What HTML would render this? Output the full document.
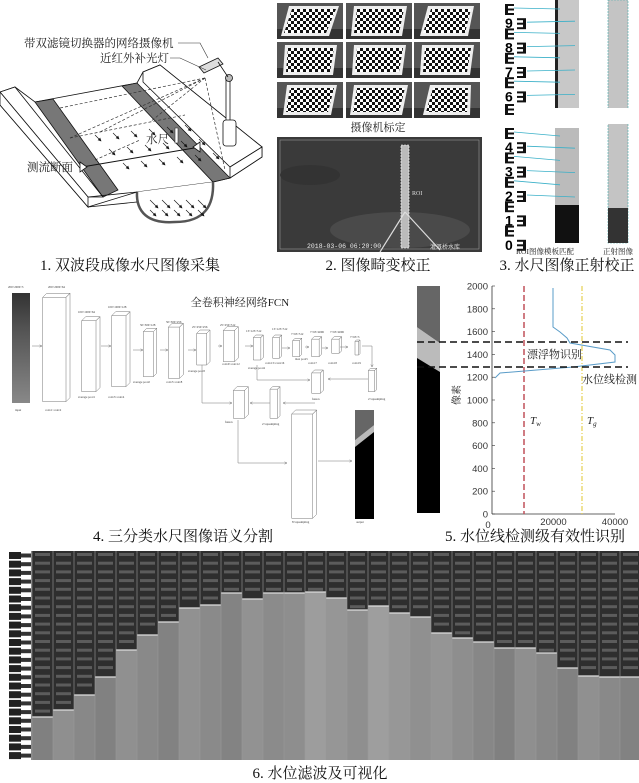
<!DOCTYPE html>
<html><head><meta charset="utf-8"><style>
html,body{margin:0;padding:0;background:#fff}
svg{display:block}
.cap{font-family:"Liberation Serif","Noto Serif CJK SC",serif;font-size:15px;fill:#111}
.lb{font-family:"Liberation Serif","Noto Serif CJK SC",serif;fill:#222}
.sm{font-family:"Liberation Serif",serif;font-size:3px;fill:#333}
.ax{font-family:"Liberation Sans",sans-serif;font-size:9.5px;fill:#333}
</style></head><body>
<svg id="s" width="639" height="783" viewBox="0 0 639 783" xmlns="http://www.w3.org/2000/svg">
<defs>
<pattern id="chk" width="6" height="6" patternUnits="userSpaceOnUse"><rect width="6" height="6" fill="#fff"/><rect width="3" height="3" fill="#111"/><rect x="3" y="3" width="3" height="3" fill="#111"/></pattern>
<marker id="ah" markerWidth="6" markerHeight="6" refX="5" refY="3" orient="auto"><path d="M0,0L6,3L0,6z" fill="#111"/></marker>
<marker id="oa" markerWidth="6" markerHeight="6" refX="5" refY="3" orient="auto"><path d="M0,0.5L5,3L0,5.5" fill="none" stroke="#666" stroke-width="0.8"/></marker>
</defs>

<!-- Panel 1 -->
<g stroke="#111" stroke-width="0.8" fill="#fff">
<polygon points="0,92 15,87 35,102 137,83 143,72 160,65 262,147 262,157 230,178 213,182 137,192 88,207 0,105"/>
<polygon points="0,92 15,87 103,197 88,197" />
<polygon points="0,92 88,197 88,207 0,105"/>
<polygon points="35,102 53,99 118,190 103,197" fill="#777"/>
<polygon points="122,86 137,83 230,178 213,182" fill="#777"/>
<polygon points="143,72 160,65 262,147 230,167 143,82"/>
<polygon points="230,167 262,147 262,157 230,178"/>
<path d="M137,192 C136,212 148,224 175,222 C205,222 214,205 213,182" fill="#fff" stroke="#555" stroke-width="2.5"/>
<line x1="88" y1="197" x2="137" y2="192"/>
<line x1="88" y1="207" x2="137" y2="202"/>
</g>
<g stroke="#333" stroke-width="0.7" stroke-dasharray="3,2" fill="none">
<line x1="205" y1="78" x2="70" y2="138"/><line x1="205" y1="78" x2="100" y2="132"/>
<line x1="205" y1="78" x2="150" y2="122"/><line x1="205" y1="78" x2="225" y2="170"/>
<line x1="70" y1="138" x2="185" y2="115"/><line x1="95" y1="160" x2="140" y2="140"/>
<line x1="205" y1="78" x2="60" y2="108"/>
</g>
<g stroke="#111" stroke-width="0.6" marker-end="url(#ah)" id="arr"></g>
<line x1="82" y1="167" x2="200" y2="147" stroke="#111" stroke-width="1"/>
<path d="M80,162 L87,167 L80,172z M200,142 L193,147 L200,152z" fill="#fff" stroke="#111" stroke-width="0.8"/>
<rect x="175" y="128" width="3" height="15" fill="#fff" stroke="#333" stroke-width="0.6"/>
<g stroke="#111" stroke-width="0.8" fill="#ddd">
<polygon points="199,67 218,58 223,64 204,73"/>
<rect x="226" y="78" width="4" height="44" fill="#fff"/>
<circle cx="229" cy="78" r="3.5" fill="#bbb"/>
<rect x="223" y="120" width="13" height="26" rx="3" fill="#fff"/>
<line x1="218" y1="62" x2="228" y2="77"/>
</g>
<g stroke="#333" stroke-width="0.6" fill="none"><polyline points="178,43 200,43 208,58"/><polyline points="170,58 180,58 206,70"/></g>
<text class="lb" x="24" y="47" font-size="11.5">带双滤镜切换器的网络摄像机</text>
<text class="lb" x="100" y="62" font-size="11.5">近红外补光灯</text>
<text class="lb" x="146" y="143" font-size="11.5">水尺</text>
<text class="lb" x="27" y="171" font-size="11.5">测流断面</text>
<text class="cap" x="130" y="270" text-anchor="middle">1. 双波段成像水尺图像采集</text>

<!-- Panel 2 -->
<g id="calib"></g>
<text class="lb" x="378" y="131" font-size="11" text-anchor="middle">摄像机标定</text>
<rect x="277" y="137" width="205" height="115" fill="#3a3a3a"/>
<rect x="280" y="140" width="199" height="109" fill="none" stroke="#999" stroke-width="0.6"/>
<ellipse cx="400" cy="230" rx="70" ry="18" fill="#4a4a4a"/>
<ellipse cx="310" cy="175" rx="30" ry="10" fill="#333"/>
<rect x="401" y="145" width="8" height="103" fill="#bbb" stroke="#fff" stroke-dasharray="2,1" stroke-width="0.6"/>
<line x1="405" y1="212" x2="380" y2="252" stroke="#ddd" stroke-width="1.2"/>
<line x1="405" y1="212" x2="440" y2="250" stroke="#ddd" stroke-width="1.2"/>
<text x="412" y="195" font-size="6" fill="#ddd" font-family="Liberation Serif">ROI</text>
<text x="307" y="248" font-size="6.5" fill="#eee" font-family="Liberation Mono">2018-03-06 06:20:00</text>
<text x="430" y="249" font-size="6" fill="#ddd" font-family="Noto Sans CJK SC">灌溉桥水库</text>
<text class="cap" x="378" y="270" text-anchor="middle">2. 图像畸变校正</text>

<!-- Panel 3 -->
<g id="ruler"></g>
<rect x="555" y="0" width="24" height="108" fill="#c8c8c8"/><rect x="555" y="0" width="3" height="108" fill="#222"/>
<rect x="555" y="128" width="24" height="77" fill="#bbb"/><rect x="555" y="205" width="24" height="38" fill="#111"/>
<rect x="608" y="0" width="20" height="243" fill="#c4c4c4" stroke="#4aa" stroke-dasharray="2,1" stroke-width="0.6"/>
<rect x="606" y="108" width="24" height="16" fill="#fff"/>
<rect x="608" y="208" width="20" height="35" fill="#333"/>
<g id="blines" stroke="#3ab0c8" stroke-width="0.8"></g>
<text class="lb" x="545" y="254" font-size="7.5" fill="#246" text-anchor="middle">ROI图像模板匹配</text>
<text class="lb" x="618" y="254" font-size="7.5" text-anchor="middle">正射图像</text>
<text class="cap" x="567" y="270" text-anchor="middle">3. 水尺图像正射校正</text>

<!-- Panel 4 -->
<defs><linearGradient id="ig" x1="0" y1="0" x2="0" y2="1"><stop offset="0" stop-color="#333"/><stop offset="0.35" stop-color="#555"/><stop offset="1" stop-color="#888"/></linearGradient></defs>
<rect x="12" y="293" width="18" height="110" fill="url(#ig)"/>
<g id="net" stroke="#777" stroke-width="0.5" fill="#fff"></g>
<rect x="355" y="410" width="19" height="109" fill="#000"/>
<polygon points="355,410 374,410 374,425 355,440" fill="#666"/>
<polygon points="355,440 374,425 374,432 355,447" fill="#bbb"/>
<text class="lb" x="240" y="306" font-size="11" text-anchor="middle">全卷积神经网络FCN</text>
<text class="cap" x="183" y="541" text-anchor="middle">4. 三分类水尺图像语义分割</text>

<!-- Panel 5 -->
<rect x="417" y="286" width="23" height="227" fill="#000"/>
<polygon points="417,286 440,286 440,343 417,327" fill="#666"/>
<polygon points="417,327 440,343 440,372 417,358" fill="#bbb"/>
<g stroke="#333" stroke-width="0.8" fill="none"><line x1="492" y1="286" x2="492" y2="514"/><line x1="492" y1="514" x2="615" y2="514"/></g>
<g id="ax"></g>
<line x1="524" y1="286" x2="524" y2="514" stroke="#c0505a" stroke-width="1.5" stroke-dasharray="6,3"/>
<line x1="582" y1="286" x2="582" y2="514" stroke="#e6d050" stroke-width="1.2" stroke-dasharray="5,2,1,2"/>
<polyline points="553,288 553,327 560,332 567,338 570,343 610,350 615,355 615,362 573,367 500,373 495,378" fill="none" stroke="#5a9cc8" stroke-width="1"/>
<g stroke="#111" stroke-width="1.5" stroke-dasharray="7,4"><line x1="417" y1="342" x2="628" y2="342"/><line x1="417" y1="367" x2="628" y2="367"/></g>
<text class="lb" x="527" y="358" font-size="11">漂浮物识别</text>
<text class="lb" x="582" y="383" font-size="11">水位线检测</text>
<text class="lb" x="455" y="400" font-size="10" transform="rotate(-90 460 400)">像素</text>
<text class="lb" x="530" y="424" font-size="11" font-style="italic">T<tspan font-size="7" dy="2">w</tspan></text>
<text class="lb" x="587" y="424" font-size="11" font-style="italic">T<tspan font-size="7" dy="2">g</tspan></text>
<text class="cap" x="535" y="541" text-anchor="middle">5. 水位线检测级有效性识别</text>

<!-- Panel 6 -->
<g id="p6"></g>
<text class="cap" x="320" y="778" text-anchor="middle">6. 水位滤波及可视化</text>
</svg>
<script>
var NS="http://www.w3.org/2000/svg";
function el(p,t,a){var e=document.createElementNS(NS,t);for(var k in a)e.setAttribute(k,a[k]);p.appendChild(e);return e;}
function txt(p,x,y,s,a){var e=el(p,"text",Object.assign({x:x,y:y},a||{}));e.textContent=s;return e;}
var ar=document.getElementById("arr");
for(var r=0;r<3;r++)for(var c=0;c<6;c++){var x=95+c*18+r*14,y=135+r*14-c*2;el(ar,"line",{x1:x,y1:y,x2:x+6,y2:y+6});}
for(var c=0;c<5;c++){var x=150+c*12;el(ar,"line",{x1:x,y1:200,x2:x+8,y2:208});el(ar,"line",{x1:x,y1:210,x2:x+6,y2:216});}
var cg=document.getElementById("calib");var xs=[277,346,414],ys=[3,42,82];
var sk=[[4,2,-4,-2],[0,1,0,-1],[6,0,-2,0],[0,0,0,0],[0,0,0,0],[0,0,0,0],[2,0,-2,0],[0,2,0,-2],[8,-3,0,3]];
for(var i=0;i<3;i++)for(var j=0;j<3;j++){var x=xs[j],y=ys[i];el(cg,"rect",{x:x,y:y,width:66,height:36,fill:"#555"});
el(cg,"rect",{x:x,y:y+26,width:66,height:10,fill:"#333"});
var s=sk[i*3+j];var pts=[[x+8+s[0],y+3],[x+60+s[1],y+3],[x+56+s[2],y+33],[x+6+s[3],y+33]];
el(cg,"polygon",{points:pts.map(p=>p.join(",")).join(" "),fill:"#eee"});
el(cg,"polygon",{points:[[pts[0][0]+3,pts[0][1]+3],[pts[1][0]-3,pts[1][1]+3],[pts[2][0]-3,pts[2][1]-3],[pts[3][0]+3,pts[3][1]-3]].map(p=>p.join(",")).join(" "),fill:"url(#chk)"});}
var ru=document.getElementById("ruler");var u=24.4;
function E(y,rev){var x=rev?517:505;el(ru,"rect",{x:x,y:y,width:9,height:11,fill:"#111"});el(ru,"rect",{x:rev?x:x+3,y:y+2,width:6,height:2.5,fill:"#fff"});el(ru,"rect",{x:rev?x:x+3,y:y+6.5,width:6,height:2.5,fill:"#fff"});}
var bl=document.getElementById("blines");
var dg=[9,8,7,6,null,4,3,2,1,0];
for(var k=0;k<10;k++){var yb=k<5?6+k*u:130+(k-5)*u;if(k==4)continue;
E(yb-2,false);txt(ru,505,yb+u/2+10,String(dg[k]),{"font-size":14,"font-weight":"bold","font-family":"Liberation Sans"});E(yb+u/2,true);
if(k<4){el(bl,"line",{x1:514,y1:yb+2,x2:560,y2:yb+3});el(bl,"line",{x1:527,y1:yb+u/2+4,x2:575,y2:yb+u/2+3});}
else if(k<8){el(bl,"line",{x1:514,y1:yb+2,x2:560,y2:yb+6});el(bl,"line",{x1:527,y1:yb+u/2+4,x2:575,y2:yb+u/2+6});}}
E(104,false);
var net=document.getElementById("net");
var B=[[128,115,210,440],[245,185,300,410],[335,170,390,395],[430,220,470,365],[505,205,550,370],[590,225,630,330],[670,215,715,320],[760,240,790,315],[818,240,845,310],[878,250,905,305],[935,245,965,305],[995,245,1025,295],[1065,255,1080,300],[935,345,970,415],[1105,340,1130,410],[700,395,745,490],[810,395,840,490],[875,465,950,790]];
B.forEach(function(b){var x1=b[0]/3,y1=b[1]/3+255,x2=b[2]/3,y2=b[3]/3+255,d=Math.min(4,(x2-x1)*0.25);
el(net,"polygon",{points:[x1,y1+d,x1+d,y1,x2,y1,x2,y2-d,x2-d,y2,x1,y2].join(",")});
el(net,"polyline",{points:[x1,y1+d,x2-d,y1+d,x2,y1].join(",")+" "+[x2-d,y1+d,x2-d,y2].join(","),fill:"none"});});
var ag=el(document.getElementById("s"),"g",{stroke:"#777","stroke-width":0.5,fill:"none"});
[[32,346,42],[101,346,111],[133,350,143],[160,350,168],[188,350,196],[218,346,222],[245,346,253],[282,348,290],[305,347,309],[322,348,328],[340,347,348]].forEach(function(a){el(ag,"line",{x1:a[0],y1:a[1],x2:a[2],y2:a[1],"marker-end":"url(#oa)"});});
el(ag,"polyline",{points:"362,346 372,346 372,367","marker-end":"url(#oa)"});
el(ag,"polyline",{points:"368,379 328,379","marker-end":"url(#oa)"});
el(ag,"polyline",{points:"257,365 257,380 310,380","marker-end":"url(#oa)"});
el(ag,"polyline",{points:"315,403 283,403","marker-end":"url(#oa)"});
el(ag,"polyline",{points:"270,403 250,403","marker-end":"url(#oa)"});
el(ag,"polyline",{points:"202,365 202,403 232,403","marker-end":"url(#oa)"});
el(ag,"polyline",{points:"238,420 238,463 287,463","marker-end":"url(#oa)"});
el(ag,"polyline",{points:"318,461 352,461","marker-end":"url(#oa)"});
var sv=document.getElementById("s");
[["200×2000×3",8,288],["200×2000×64",48,288],["100×1000×64",78,313],["100×1000×128",108,308],["50×500×128",140,326],["50×500×256",166,323],["25×250×256",192,328],["25×250×512",220,326],["13×125×512",246,332],["13×125×512",272,330],["7×63×512",291,335],["7×63×4096",310,333],["7×63×4096",330,333],["7×63×3",350,338],["input",15,411],["conv1~conv2",45,411],["average pool1",78,398],["conv3~conv4",108,398],["average pool2",133,383],["conv5~conv8",166,383],["average pool3",188,372],["conv9~conv12",222,365],["average pool4",248,369],["conv13~conv16",265,364],["max pool5",295,360],["conv17",308,364],["conv18",328,364],["conv19",352,364],["fusion",312,400],["2×upsampling",368,400],["fusion",225,423],["2×upsampling",262,425],["8×upsampling",292,523],["output",356,523]].forEach(function(t){txt(sv,t[1],t[2],t[0],{class:"sm"});});
var ax=document.getElementById("ax");
for(var v=0;v<=2000;v+=200){var y=514-v*0.114;el(ax,"line",{x1:492,y1:y,x2:495,y2:y,stroke:"#333","stroke-width":0.6});txt(ax,488,y+3.5,String(v),{class:"ax","text-anchor":"end"});}
[[0,"0"],[20000,"20000"],[40000,"40000"]].forEach(function(a){var x=492+a[0]*0.003075;txt(ax,x-(a[0]?0:4),a[0]?525:528,a[1],{class:"ax","text-anchor":"middle"});});
var p6=document.getElementById("p6");
el(p6,"rect",{x:8,y:551,width:631,height:209,fill:"#888"});
el(p6,"rect",{x:8,y:551,width:23,height:209,fill:"#fff"});
for(var k=0;k<24;k++){var y=552+k*8.7;el(p6,"rect",{x:9,y:y,width:12,height:7,fill:"#222"});el(p6,"rect",{x:21,y:y+1.5,width:10,height:4,fill:"#333"});}
var wl=[717,710,695,677,650,635,622,608,605,593,599,593,593,592,598,610,606,613,617,633,638,642,648,648,653,668,676,677,677];
for(var i=0;i<29;i++){var x=32+i*21,w=21,y=wl[i];
el(p6,"rect",{x:x,y:551,width:w,height:y-551,fill:"#2e2e2e"});
for(var yy=553;yy<y-4;yy+=8.7){el(p6,"rect",{x:x+3,y:yy,width:w-6,height:3,fill:"#5c5c5c"});}
var g=128+((i*37)%22)+(i>11&&i<19?10:0);
el(p6,"rect",{x:x,y:y,width:w,height:760-y,fill:"rgb("+g+","+g+","+g+")"});
el(p6,"line",{x1:x,y1:y,x2:x+w,y2:y,stroke:"#ddd","stroke-width":1.2});
el(p6,"line",{x1:x,y1:551,x2:x,y2:760,stroke:"#999","stroke-width":0.6});}
</script>
</body></html>
